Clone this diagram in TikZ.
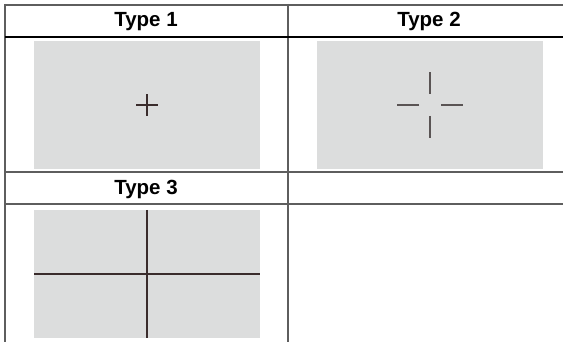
\documentclass[tikz,border=0pt]{standalone}
\usepackage{fontspec}
\setmainfont{Liberation Sans}
\definecolor{gridgray}{HTML}{5E5E5E}
\definecolor{boxgray}{HTML}{DCDDDD}
\definecolor{reticlecol}{HTML}{3A2C2C}
\definecolor{armgray}{HTML}{5A5454}
\tikzset{
    grid rule/.style={draw=gridgray, line width=2pt},
    header rule/.style={draw=black, line width=1.3pt},
    target box/.style={fill=boxgray},
    reticle/.style={draw=reticlecol, line width=1.1pt},
    reticle arm/.style={draw=armgray, line width=1.3pt},
    type label/.style={font=\bfseries\fontsize{20.5}{22}\selectfont,
        anchor=base, inner sep=0pt}
}
\begin{document}
\begin{tikzpicture}[x=1pt,y=-1pt]
    \useasboundingbox (0,0) rectangle (563,342);
    % cell backgrounds
    \fill[target box] (34,41) rectangle (260,169);
    \fill[target box] (317,41) rectangle (543,169);
    \fill[target box] (34,210) rectangle (260,338);

    % table rules
    \draw[grid rule] (5,5) -- (563,5);
    \draw[grid rule] (5,4) -- (5,342);
    \draw[grid rule] (287.5,4) -- (287.5,342);
    \draw[header rule] (5,37) -- (563,37);
    \draw[grid rule] (5,172) -- (563,172);
    \draw[grid rule] (5,204) -- (563,204);

    % headers
    \node[type label] (hdr1) at (146,26.5) {Type 1};
    \node[type label] (hdr2) at (429,26.5) {Type 2};
    \node[type label] (hdr3) at (146,195) {Type 3};

    % type 1: small cross
    \coordinate (C1) at (147,105);
    \draw[reticle] ([xshift=-11pt]C1) -- ([xshift=11pt]C1);
    \draw[reticle] ([yshift=-11pt]C1) -- ([yshift=11pt]C1);

    % type 2: open cross
    \coordinate (C2) at (430,105);
    \foreach \ang in {0,90,180,270}
        \draw[reticle arm] (C2) ++(\ang:11pt) -- ++(\ang:22pt);

    % type 3: full cross
    \draw[reticle, line width=1.4pt] (147,210) -- (147,338);
    \draw[reticle, line width=1.4pt] (34,274) -- (260,274);
\end{tikzpicture}
\end{document}
